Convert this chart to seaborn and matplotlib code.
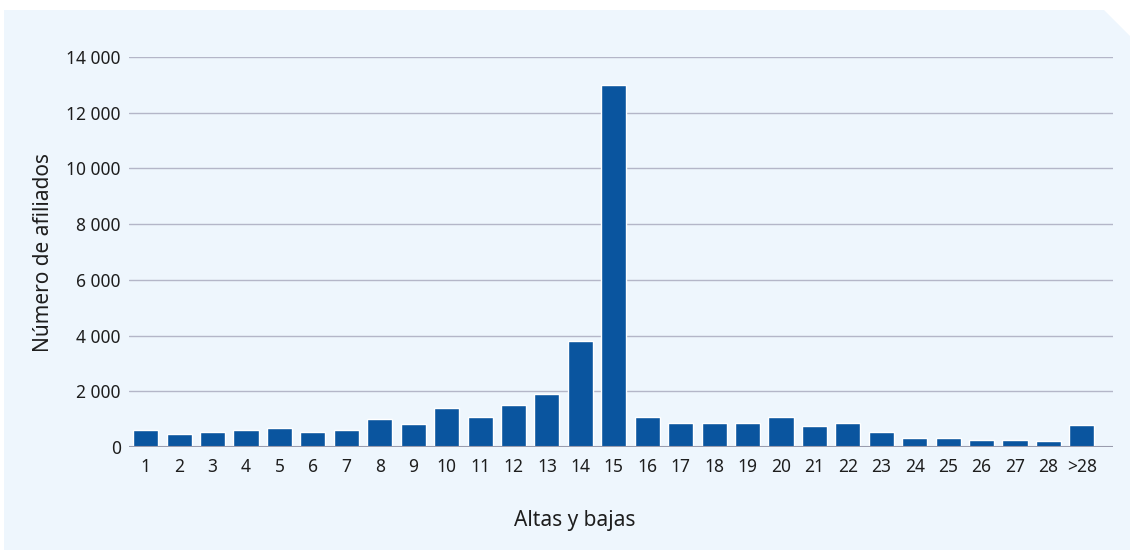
import matplotlib
matplotlib.use("Agg")
import matplotlib.pyplot as plt
from matplotlib.patches import Polygon
from matplotlib.ticker import FuncFormatter
import seaborn as sns
import pandas as pd

categories = [str(i) for i in range(1, 29)] + [">28"]
afiliados = [620, 475, 545, 620, 690, 545, 620, 1010, 830, 1400,
             1080, 1510, 1900, 3800, 13000, 1080, 870, 870, 870, 1080,
             760, 870, 545, 330, 330, 260, 260, 225, 800]
y_ticks = [0, 2000, 4000, 6000, 8000, 10000, 12000, 14000]

BAR = "#0a559f"
PANEL = "#eef6fd"
GRID = "#b4b6c8"

sns.set_theme(style="white")
plt.rcParams["font.family"] = ["Noto Sans", "DejaVu Sans"]

df = pd.DataFrame({"Altas": categories, "Afiliados": afiliados})

fig = plt.figure(figsize=(11.3, 5.5), dpi=100)
fig.patch.set_facecolor("white")

# panel with cut corner
W, H = 1130, 550
pts = [(4, 10), (1104, 10), (1130, 36), (1130, 550), (4, 550)]
panel = Polygon([(x / W, 1 - y / H) for x, y in pts], closed=True,
                transform=fig.transFigure, facecolor=PANEL, edgecolor="none", zorder=-10)
fig.patches.append(panel)

ax = fig.add_axes([129 / W, 1 - 447 / H, (1113 - 129) / W, (447 - 57) / H])
ax.set_facecolor("none")

sns.barplot(data=df, x="Altas", y="Afiliados", color=BAR, width=0.75,
            saturation=1, ax=ax, zorder=3)

ax.set_xlim(-0.5, 28.93)
ax.set_ylim(0, 14000)
ax.set_yticks(y_ticks)
ax.yaxis.set_major_formatter(FuncFormatter(lambda v, p: f"{int(v):,}".replace(",", " ")))
ax.grid(axis="y", color=GRID, linewidth=1, zorder=0)
ax.set_axisbelow(True)
ax.axhline(0, color="#9a9cae", linewidth=1.5, zorder=4)
for s in ax.spines.values():
    s.set_visible(False)
ax.tick_params(axis="both", length=0, labelsize=12.5, colors="#1e1e1e")
ax.tick_params(axis="y", pad=6)
ax.tick_params(axis="x", pad=8)

ax.set_xlabel("Altas y bajas", fontsize=15, color="#1e1e1e")
ax.set_ylabel("Número de afiliados", fontsize=15, color="#1e1e1e")
ax.xaxis.set_label_coords(0.453, -0.162)
ax.yaxis.set_label_coords(-0.076, 0.5)

fig.savefig("out.png", dpi=100, facecolor="white")
